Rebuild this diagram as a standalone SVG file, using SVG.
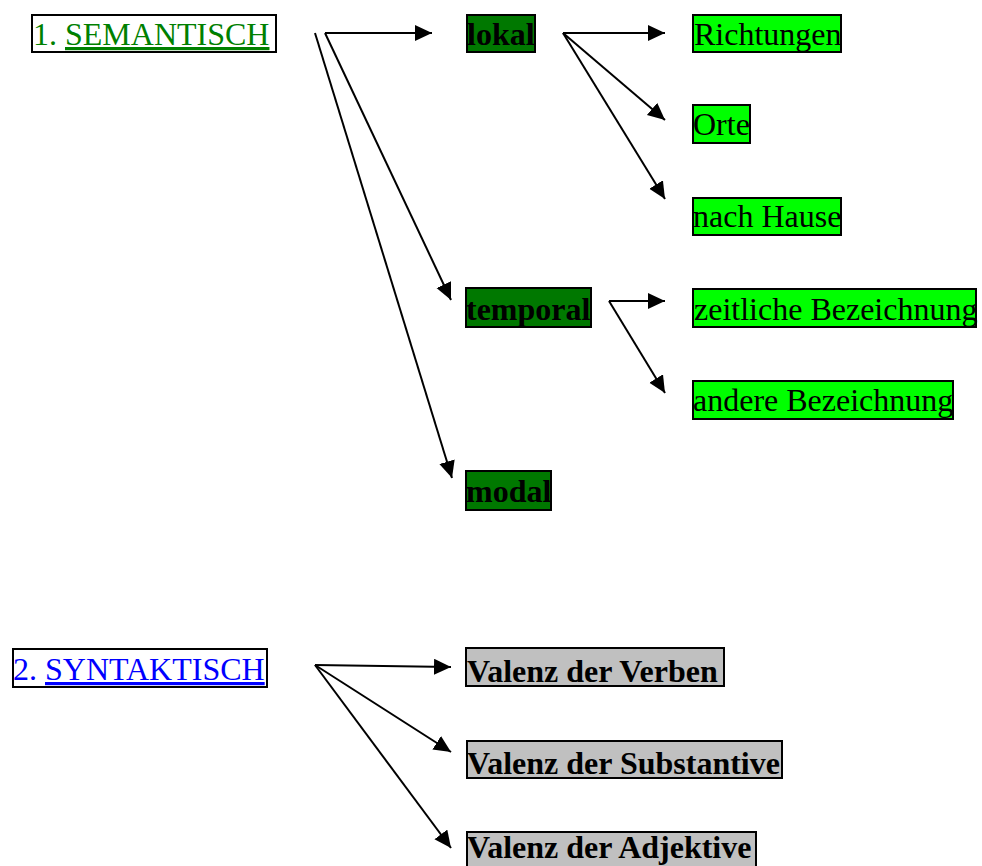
<svg xmlns="http://www.w3.org/2000/svg" width="982" height="866" viewBox="0 0 982 866">
<style>
  text { font-family: "Liberation Serif", "Times New Roman", serif; font-size: 32px; }
  .b { font-weight: bold; fill: #000; }
  .n { fill: #000; }
  .box { stroke: #000; stroke-width: 2; }
  .dk { fill: #007800; }
  .lt { fill: #00ff00; }
  .gr { fill: #c0c0c0; }
  .wh { fill: #fff; }
  .con line { stroke: #000; stroke-width: 2; fill: none; marker-end: url(#ah); }
</style>
<defs>
  <marker id="ah" markerUnits="userSpaceOnUse" markerWidth="20" markerHeight="20" refX="17" refY="8" orient="auto">
    <path d="M0,0 L17,8 L0,16 z" fill="#000"/>
  </marker>
</defs>
<rect width="982" height="866" fill="#fff"/>

<g id="semantisch">
  <rect class="box wh" x="32" y="15" width="244" height="37"/>
  <text x="33" y="45" fill="#008000">1. <tspan text-decoration="underline">SEMANTISCH</tspan></text>
</g>
<g id="lokal">
  <rect class="box dk" x="467" y="15" width="68" height="37"/>
  <text class="b" x="467" y="45">lokal</text>
</g>
<g id="richtungen">
  <rect class="box lt" x="693" y="15" width="148" height="37"/>
  <text class="n" x="694" y="45">Richtungen</text>
</g>
<g id="orte">
  <rect class="box lt" x="693" y="105" width="57" height="38"/>
  <text class="n" x="693" y="135">Orte</text>
</g>
<g id="nach-hause">
  <rect class="box lt" x="693" y="198" width="148" height="37"/>
  <text class="n" x="693" y="227">nach Hause</text>
</g>
<g id="temporal">
  <rect class="box dk" x="466" y="288" width="125" height="39"/>
  <text class="b" x="466" y="320">temporal</text>
</g>
<g id="zeitliche">
  <rect class="box lt" x="693" y="289" width="283" height="38"/>
  <text class="n" x="694" y="320">zeitliche Bezeichnung</text>
</g>
<g id="andere">
  <rect class="box lt" x="693" y="381" width="260" height="38"/>
  <text class="n" x="693" y="411">andere Bezeichnung</text>
</g>
<g id="modal">
  <rect class="box dk" x="466" y="471" width="85" height="39"/>
  <text class="b" x="466" y="502">modal</text>
</g>

<g id="syntaktisch">
  <rect class="box wh" x="13" y="649" width="254" height="38"/>
  <text x="13" y="680" fill="#0000ff">2. <tspan text-decoration="underline">SYNTAKTISCH</tspan></text>
</g>
<g id="verben">
  <rect class="box gr" x="466" y="648" width="258" height="38"/>
  <text class="b" x="467" y="682">Valenz der Verben</text>
</g>
<g id="substantive">
  <rect class="box gr" x="467" y="741" width="315" height="37"/>
  <text class="b" x="467" y="774">Valenz der Substantive</text>
</g>
<g id="adjektive">
  <rect class="box gr" x="467" y="832" width="289" height="44"/>
  <text class="b" x="467" y="858">Valenz der Adjektive</text>
</g>

<g id="connectors" class="con">
  <line x1="325" y1="33" x2="432" y2="33"/>
  <line x1="325" y1="33" x2="451" y2="300"/>
  <line x1="315" y1="33" x2="452" y2="478"/>
  <line x1="563" y1="33" x2="665" y2="33"/>
  <line x1="563" y1="33" x2="665" y2="120"/>
  <line x1="563" y1="33" x2="665" y2="199"/>
  <line x1="609" y1="301" x2="665" y2="301"/>
  <line x1="609" y1="301" x2="665" y2="393"/>
  <line x1="315" y1="665" x2="451" y2="667"/>
  <line x1="315" y1="665" x2="451" y2="752"/>
  <line x1="315" y1="665" x2="451" y2="848"/>
</g>
</svg>
